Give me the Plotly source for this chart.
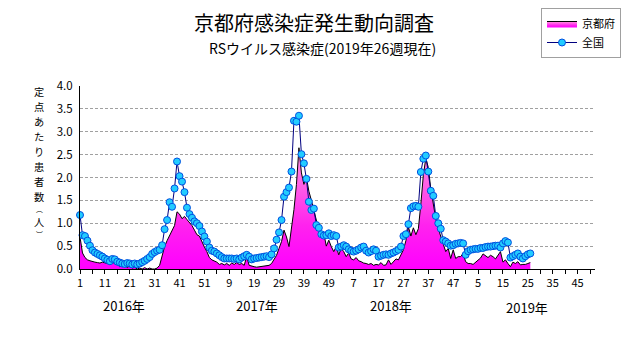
import plotly.graph_objects as go

# ---- data (weekly, 2016 week 1 .. 2019 week 26) ----
kyoto = [
    # 2016
    0.70, 0.35, 0.25, 0.20, 0.18, 0.16, 0.15, 0.14, 0.13, 0.15,
    0.14, 0.12, 0.10, 0.15, 0.12, 0.13, 0.05, 0.10, 0.08, 0.03,
    0.07, 0.02, 0.04, 0.00, 0.02, 0.00, 0.03, 0.00, 0.02, 0.00,
    0.00, 0.02, 0.08, 0.30, 0.49, 0.62, 0.72, 0.85, 0.95, 1.25,
    1.20, 1.10, 1.15, 1.08, 1.02, 0.95, 0.85, 0.75, 0.72, 0.58,
    0.48, 0.38,
    # 2017
    0.25, 0.20, 0.17, 0.15, 0.10, 0.12, 0.09, 0.12, 0.08, 0.13,
    0.10, 0.14, 0.10, 0.12, 0.08, 0.27, 0.08, 0.06, 0.05, 0.04,
    0.05, 0.05, 0.06, 0.08, 0.08, 0.12, 0.20, 0.30, 0.45, 0.60,
    0.85, 0.70, 0.49, 0.90, 1.30, 1.85, 2.65, 2.10, 1.85, 2.00,
    1.70, 1.50, 1.28, 1.10, 0.85, 0.70, 0.78, 0.50, 0.63, 0.49,
    0.38, 0.49,
    # 2018
    0.31, 0.45, 0.38, 0.27, 0.35, 0.22, 0.20, 0.25, 0.18, 0.16,
    0.13, 0.12, 0.10, 0.12, 0.08, 0.10, 0.09, 0.14, 0.08, 0.09,
    0.20, 0.10, 0.15, 0.22, 0.20, 0.30, 0.42, 0.62, 0.92, 0.72,
    0.90, 0.75, 0.88, 1.42, 2.05, 2.42, 2.22, 1.75, 1.40, 1.10,
    0.88, 0.70, 0.52, 0.38, 0.45, 0.23, 0.42, 0.23, 0.27, 0.27,
    0.34, 0.16,
    # 2019
    0.12, 0.12, 0.10, 0.14, 0.20, 0.24, 0.33, 0.28, 0.25, 0.30,
    0.27, 0.22, 0.30, 0.38, 0.15, 0.20, 0.12, 0.05, 0.15, 0.12,
    0.16, 0.09, 0.10, 0.10, 0.12, 0.14,
]

national = [
    # 2016
    1.18, 0.74, 0.72, 0.62, 0.51, 0.41, 0.36, 0.33, 0.30, 0.27,
    0.23, 0.20, 0.17, 0.22, 0.21, 0.16, 0.14, 0.12, 0.11, 0.13,
    0.12, 0.10, 0.12, 0.10, 0.12, 0.15, 0.18, 0.22, 0.26, 0.33,
    0.37, 0.40, 0.42, 0.52, 0.87, 1.07, 1.46, 1.36, 1.76, 2.35,
    2.03, 1.91, 1.68, 1.34, 1.20, 1.12, 1.04, 1.00, 0.94, 0.82,
    0.71, 0.60,
    # 2017
    0.47, 0.40, 0.38, 0.34, 0.30, 0.26, 0.23, 0.23, 0.23, 0.23,
    0.22, 0.23, 0.21, 0.25, 0.28, 0.31, 0.27, 0.21, 0.23, 0.24,
    0.25, 0.26, 0.27, 0.28, 0.26, 0.32, 0.45, 0.64, 0.80, 1.07,
    1.58, 1.68, 1.78, 2.13, 3.24, 3.22, 3.35, 2.51, 2.31, 1.97,
    1.47, 1.29, 1.32, 0.96, 0.90, 0.76, 0.73, 0.74, 0.78, 0.72,
    0.74, 0.72,
    # 2018
    0.47, 0.49, 0.52, 0.49, 0.43, 0.40, 0.38, 0.40, 0.43, 0.47,
    0.49, 0.40, 0.36, 0.39, 0.43, 0.40, 0.27, 0.29, 0.31, 0.32,
    0.31, 0.34, 0.36, 0.39, 0.42, 0.49, 0.72, 0.76, 0.98, 1.33,
    1.37, 1.38, 1.36, 2.12, 2.41, 2.48, 2.13, 1.71, 1.60, 1.16,
    1.00, 0.88, 0.63, 0.60, 0.56, 0.51, 0.52, 0.55, 0.56, 0.57,
    0.56, 0.31,
    # 2019
    0.39, 0.42, 0.43, 0.44, 0.44, 0.46, 0.46, 0.48, 0.49, 0.49,
    0.50, 0.51, 0.51, 0.47, 0.56, 0.61, 0.58, 0.25, 0.28, 0.31,
    0.34, 0.27, 0.23, 0.28, 0.32, 0.34,
]

week_index = list(range(len(national)))          # 0 = 2016 week 1
axis_weeks = 208                                  # 2016..2019, 52 weeks each
tick_labels = ["1", "11", "21", "31", "41", "51", "9", "19", "29", "39", "49",
               "7", "17", "27", "37", "47", "5", "15", "25", "35", "45"]
year_labels = ["2016年", "2017年", "2018年", "2019年"]
year_label_pos = [17.7, 71.1, 125.0, 179.7]
series_names = ["京都府", "全国"]
title_text = "京都府感染症発生動向調査"
subtitle_text = "RSウイルス感染症(2019年26週現在)"
ytitle_chars = ["定", "点", "あ", "た", "り", "患", "者", "数", "︵", "人", "︶"]

FONT = "Noto Sans CJK JP"

fig = go.Figure()

fig.add_trace(go.Scatter(
    x=week_index, y=kyoto, name=series_names[0], mode="lines",
    line=dict(color="black", width=1),
    fill="tozeroy",
    fillgradient=dict(type="vertical", start=0, stop=2.7,
                      colorscale=[[0, "#FF00FF"], [0.35, "#FF22EE"], [1, "#FF99DD"]]),
    cliponaxis=False,
))

fig.add_trace(go.Scatter(
    x=week_index, y=national, name=series_names[1], mode="lines+markers",
    line=dict(color="#000080", width=1),
    marker=dict(size=7, color="#22CCFF", line=dict(color="#0050E0", width=1)),
    cliponaxis=False,
))

tickvals = list(range(0, axis_weeks - 2, 5))
ticktext = [tick_labels[v // 10] if v % 10 == 0 else "" for v in tickvals]

L, R, T, B = 80, 36, 86, 78
W, H = 631, 347
pw = W - L - R
ph = H - T - B


def px_to_paper_x(px):
    return (px - L) / pw


def px_to_paper_y(py):
    return (H - B - py) / ph


annotations = [
    dict(text=title_text, x=px_to_paper_x(314), y=px_to_paper_y(22), xref="paper", yref="paper",
         showarrow=False, xanchor="center", yanchor="middle", font=dict(size=20, family=FONT, color="black")),
    dict(text=subtitle_text, x=px_to_paper_x(322), y=px_to_paper_y(48), xref="paper", yref="paper",
         showarrow=False, xanchor="center", yanchor="middle", font=dict(size=14, family=FONT, color="black")),
]

# vertical (stacked) y-axis title, one character per text
ytitle_y = [91, 106, 121, 136, 151, 166, 181, 196, 208.5, 221, 233.5]
ytitle_size = [10.2] * 8 + [6.8, 10.2, 6.8]
for ch, py, fs in zip(ytitle_chars, ytitle_y, ytitle_size):
    annotations.append(dict(text=ch, x=px_to_paper_x(39), y=px_to_paper_y(py), xref="paper", yref="paper",
                            showarrow=False, xanchor="center", yanchor="middle", borderpad=0,
                            font=dict(size=fs, family=FONT, color="black")))

for lab, pos, py in zip(year_labels, year_label_pos, [305, 305, 305, 307]):
    annotations.append(dict(text=lab, x=pos, y=px_to_paper_y(py), xref="x", yref="paper",
                            showarrow=False, xanchor="center", yanchor="middle",
                            font=dict(size=13, family=FONT, color="black")))

fig.update_layout(
    width=W, height=H,
    margin=dict(l=L, r=R, t=T, b=B, pad=0, autoexpand=False),
    paper_bgcolor="white", plot_bgcolor="white",
    font=dict(family=FONT, color="black"),
    showlegend=True,
    legend=dict(x=px_to_paper_x(541), y=px_to_paper_y(8), xanchor="left", yanchor="top",
                bordercolor="#A0A0A0", borderwidth=1, bgcolor="white",
                font=dict(size=11, family=FONT, color="black"),
                itemwidth=30, tracegroupgap=0),
    xaxis=dict(range=[0, axis_weeks - 1], tickmode="array", tickvals=tickvals, ticktext=ticktext,
               ticks="outside", ticklen=4, tickcolor="black", tickwidth=1,
               showline=True, linecolor="black", linewidth=1,
               showgrid=False, zeroline=False, tickfont=dict(size=11, family=FONT, color="black")),
    yaxis=dict(range=[0, 4], tick0=0, dtick=0.5, tickformat=".1f",
               showgrid=True, gridcolor="#A0A0A0", griddash="3px,2px", gridwidth=1,
               showline=True, linecolor="black", linewidth=1, zeroline=False,
               ticks="", ticklabelstandoff=4,
               tickfont=dict(size=11.5, family=FONT, color="black")),
    annotations=annotations,
)

fig.write_html("out.html")
